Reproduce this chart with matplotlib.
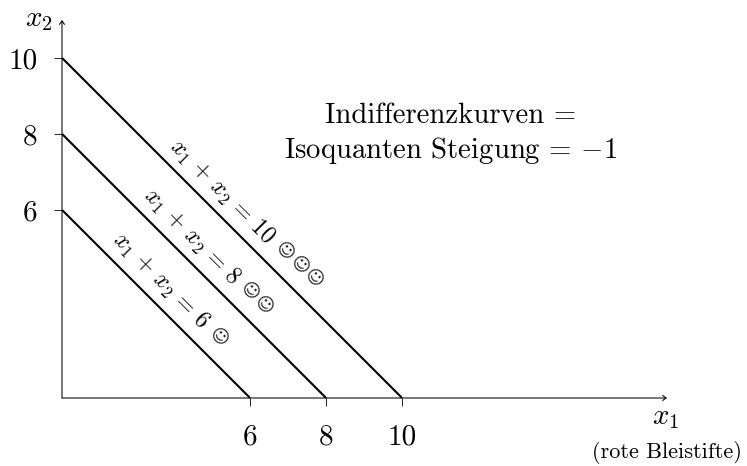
import matplotlib
matplotlib.use("Agg")
import matplotlib.pyplot as plt

plt.rcParams["font.family"] = ["cmr10", "DejaVu Sans"]
plt.rcParams["mathtext.fontset"] = "cm"
plt.rcParams["axes.formatter.use_mathtext"] = True

# the axes do not start at zero in the original, the corner sits near 1.05
AXIS_START = 1.05
UNIT_PX = 38
ORIGIN_PX = (62, 398)
AXIS_END_PX = (667, 20)

LEVELS = [6, 8, 10]
TICK_LABELS = ["6", "8", "10"]
CURVE_LABELS = [
    r"$x_1 \,+\, x_2 \,=\, 6$",
    r"$x_1 \,+\, x_2 \,=\, 8$",
    r"$x_1 \,+\, x_2 \,=\, 10$",
]
# label centres in pixels of the reference
LABEL_PX = [(161, 281), (192, 237), (222, 192)]
SMILEY_PX = [[(218, 337)], [(249, 291), (263, 305)], [(284, 251), (299, 265), (313, 278)]]

W, H = 747, 466


def px_x(px):
    return AXIS_START + (px - ORIGIN_PX[0]) / UNIT_PX


def px_y(py):
    return AXIS_START + (ORIGIN_PX[1] - py) / UNIT_PX


fig = plt.figure(figsize=(W / 100, H / 100), dpi=100)
ax = fig.add_axes([
    ORIGIN_PX[0] / W,
    (H - ORIGIN_PX[1]) / H,
    (AXIS_END_PX[0] - ORIGIN_PX[0]) / W,
    (ORIGIN_PX[1] - AXIS_END_PX[1]) / H,
])
ax.set_xlim(AXIS_START, px_x(AXIS_END_PX[0]))
ax.set_ylim(AXIS_START, px_y(AXIS_END_PX[1]))
for spine in ax.spines.values():
    spine.set_visible(False)

for level in LEVELS:
    ax.plot([AXIS_START, level], [level, AXIS_START], color="black", lw=1.5, solid_capstyle="butt", clip_on=False)

for xy in [(1, 0), (0, 1)]:
    ax.annotate("", xy=xy, xytext=(0, 0), xycoords="axes fraction", textcoords="axes fraction",
                arrowprops=dict(arrowstyle="->,head_length=0.25,head_width=0.18", color="black", lw=0.75,
                                shrinkA=0, shrinkB=0))

ax.set_xticks(LEVELS, TICK_LABELS)
ax.set_yticks(LEVELS, TICK_LABELS)
ax.tick_params(length=5.5, width=0.6, labelsize=21, pad=12)
ax.tick_params(axis="x", pad=13.5)

for text, (lx, ly), smileys in zip(CURVE_LABELS, LABEL_PX, SMILEY_PX):
    ax.text(px_x(lx), px_y(ly), text, rotation=-45, rotation_mode="anchor", ha="center", va="center", fontsize=17)
    for sx, sy in smileys:
        ax.text(px_x(sx), px_y(sy), "\u263a", family="DejaVu Sans", rotation=-45, rotation_mode="anchor",
                ha="center", va="center", fontsize=13, color="#222222")

ax.text(px_x(451), px_y(116), "Indifferenzkurven =", ha="center", va="center", fontsize=20.7)
ax.text(px_x(451), px_y(151), "Isoquanten Steigung = $-1$", ha="center", va="center", fontsize=20.7)

ax.text(px_x(39), px_y(20), "$x_2$", ha="center", va="center", fontsize=21, clip_on=False)
ax.text(px_x(666), px_y(418), "$x_1$", ha="center", va="center", fontsize=21, clip_on=False)
ax.text(px_x(667), px_y(452), "(rote Bleistifte)", ha="center", va="center", fontsize=16, clip_on=False)

fig.savefig("out.png", dpi=100)
